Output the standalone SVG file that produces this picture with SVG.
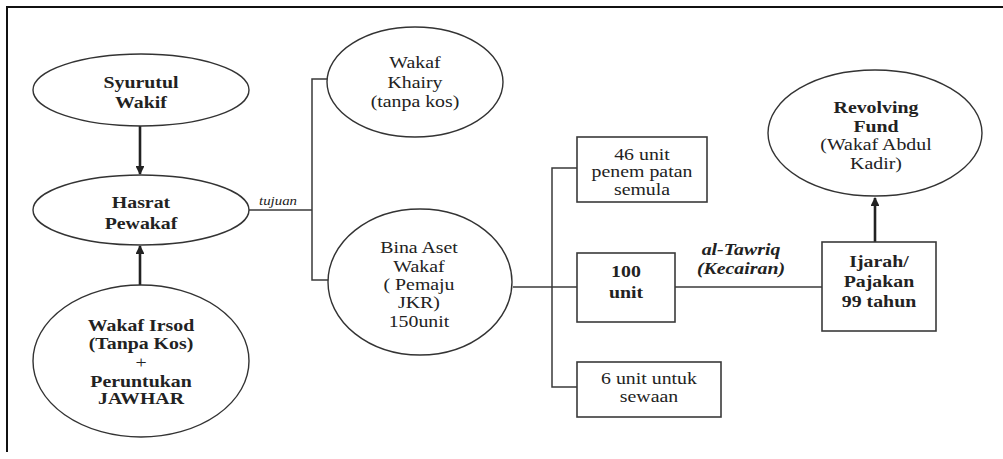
<svg xmlns="http://www.w3.org/2000/svg" width="1003" height="459" viewBox="0 0 1003 459">
  <style>
    .shape { fill: #ffffff; stroke: #333333; stroke-width: 1.4; }
    .box { fill: #ffffff; stroke: #3a3a3a; stroke-width: 1.6; }
    .link { fill: none; stroke: #3a3a3a; stroke-width: 1.5; }
    .arrow { fill: none; stroke: #222222; stroke-width: 2.6; }
    .frame { fill: none; stroke: #111111; stroke-width: 2; }
    text { font-size: 16px; fill: #222222; text-anchor: middle; }
    .b { font-weight: bold; }
    .lbl-i { font-style: italic; font-size: 12px; }
    .lbl-bi { font-style: italic; font-weight: bold; }
  </style>
  <defs>
    <marker id="head" viewBox="0 0 10 10" refX="9" refY="5" markerWidth="3.4" markerHeight="3.4" orient="auto">
      <path d="M0,0 L10,5 L0,10 Z" fill="#222222"/>
    </marker>
  </defs>

  <rect x="0" y="0" width="1003" height="459" fill="#ffffff"/>
  <!-- outer frame (top and left edges) -->
  <path class="frame" d="M7,452 L7,7 L1003,7"/>

  <g font-family="'Liberation Serif', 'DejaVu Serif', serif">
  <!-- connectors -->
  <g id="connectors">
    <line class="arrow" x1="140" y1="126" x2="140" y2="174" marker-end="url(#head)"/>
    <line class="arrow" x1="140" y1="285" x2="140" y2="246" marker-end="url(#head)"/>
    <path class="link" d="M248,210 L312,210"/>
    <path class="link" d="M330,79 L312,79 L312,280 L329,280"/>
    <text class="lbl-i" transform="translate(278 0) scale(1.24 1)" x="0" y="205">tujuan</text>
    <path class="link" d="M513,287 L577,287"/>
    <path class="link" d="M577,168 L552,168 L552,387 L577,387"/>
    <path class="link" d="M675,287 L822,287"/>
    <text class="lbl-bi" transform="translate(741 0) scale(1.24 1)"><tspan x="0" y="255">al-Tawriq</tspan><tspan x="0" y="274">(Kecairan)</tspan></text>
    <line class="arrow" x1="875" y1="242" x2="875" y2="198" marker-end="url(#head)"/>
  </g>

  <g id="syurutul-wakif">
    <ellipse class="shape" cx="141" cy="90" rx="108" ry="36"/>
    <text class="b" transform="translate(141 0) scale(1.24 1)"><tspan x="0" y="88">Syurutul</tspan><tspan x="0" y="108">Wakif</tspan></text>
  </g>

  <g id="hasrat-pewakaf">
    <ellipse class="shape" cx="141" cy="210" rx="108" ry="35"/>
    <text class="b" transform="translate(141 0) scale(1.24 1)"><tspan x="0" y="208">Hasrat</tspan><tspan x="0" y="229">Pewakaf</tspan></text>
  </g>

  <g id="wakaf-irsod">
    <ellipse class="shape" cx="141" cy="361" rx="108" ry="76"/>
    <text class="b" transform="translate(141 0) scale(1.24 1)"><tspan x="0" y="331">Wakaf Irsod</tspan><tspan x="0" y="349">(Tanpa Kos)</tspan><tspan x="0" y="368" font-weight="normal">+</tspan><tspan x="0" y="387">Peruntukan</tspan><tspan x="0" y="404">JAWHAR</tspan></text>
  </g>

  <g id="wakaf-khairy">
    <ellipse class="shape" cx="415" cy="82" rx="88" ry="55"/>
    <text transform="translate(415 0) scale(1.24 1)"><tspan x="0" y="68">Wakaf</tspan><tspan x="0" y="88">Khairy</tspan><tspan x="0" y="107">(tanpa kos)</tspan></text>
  </g>

  <g id="bina-aset-wakaf">
    <ellipse class="shape" cx="420" cy="282" rx="92" ry="73"/>
    <text transform="translate(419 0) scale(1.24 1)"><tspan x="0" y="253">Bina Aset</tspan><tspan x="0" y="272">Wakaf</tspan><tspan x="0" y="290">( Pemaju</tspan><tspan x="0" y="308">JKR)</tspan><tspan x="0" y="327">150unit</tspan></text>
  </g>

  <g id="unit-46">
    <rect class="box" x="577" y="137" width="130" height="65"/>
    <text transform="translate(642 0) scale(1.24 1)"><tspan x="0" y="160">46 unit</tspan><tspan x="0" y="177">penem patan</tspan><tspan x="0" y="195">semula</tspan></text>
  </g>

  <g id="unit-100">
    <rect class="box" x="577" y="253" width="98" height="69"/>
    <text class="b" transform="translate(626 0) scale(1.24 1)"><tspan x="0" y="277">100</tspan><tspan x="0" y="298">unit</tspan></text>
  </g>

  <g id="unit-6">
    <rect class="box" x="577" y="362" width="144" height="55"/>
    <text transform="translate(649 0) scale(1.24 1)"><tspan x="0" y="384">6 unit untuk</tspan><tspan x="0" y="402">sewaan</tspan></text>
  </g>

  <g id="ijarah">
    <rect class="box" x="822" y="242" width="114" height="89"/>
    <text class="b" transform="translate(879 0) scale(1.24 1)"><tspan x="0" y="267">Ijarah/</tspan><tspan x="0" y="287">Pajakan</tspan><tspan x="0" y="307">99 tahun</tspan></text>
  </g>

  <g id="revolving-fund">
    <ellipse class="shape" cx="875" cy="133" rx="107" ry="63"/>
    <text transform="translate(876 0) scale(1.24 1)"><tspan x="0" y="113" class="b">Revolving</tspan><tspan x="0" y="132" class="b">Fund</tspan><tspan x="0" y="150">(Wakaf Abdul</tspan><tspan x="0" y="169">Kadir)</tspan></text>
  </g>
  </g>
</svg>
